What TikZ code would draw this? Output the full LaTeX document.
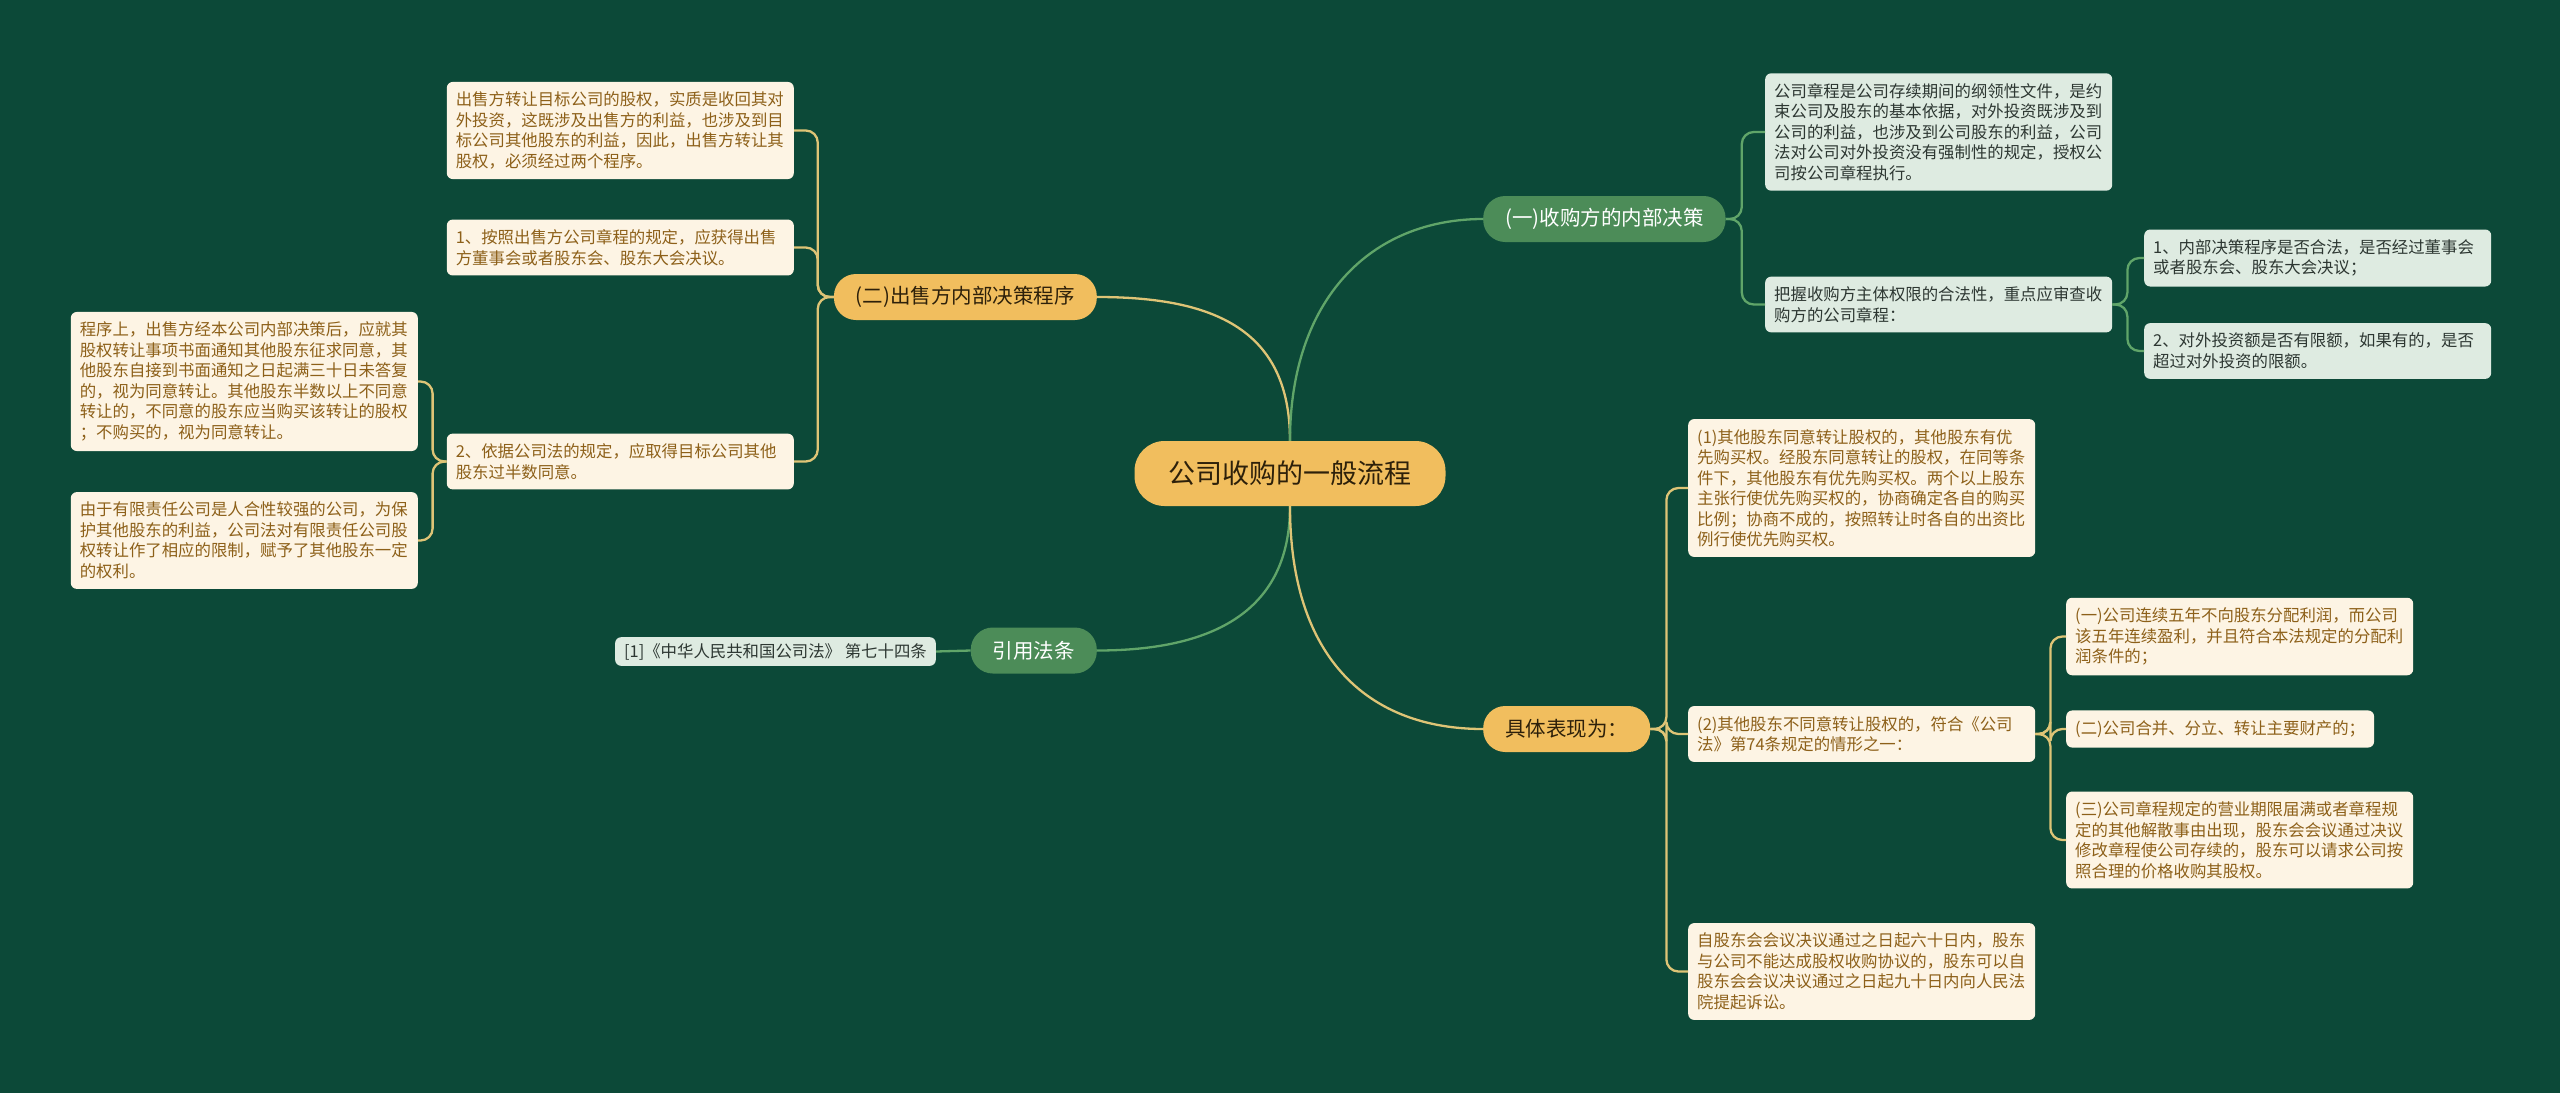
\documentclass[tikz,border=0pt]{standalone}
\usepackage{fontspec}
\setmainfont{Noto Sans CJK SC}
\usetikzlibrary{positioning}
\definecolor{BgGreen}{RGB}{12, 73, 56}
\definecolor{TopicOrange}{RGB}{241, 190, 94}
\definecolor{TopicGreen}{RGB}{76, 140, 88}
\definecolor{LeafCream}{RGB}{253, 244, 228}
\definecolor{LeafBrown}{RGB}{141, 96, 25}
\definecolor{LeafMint}{RGB}{222, 235, 225}
\definecolor{MintText}{RGB}{45, 55, 50}
\definecolor{LineGold}{RGB}{222, 196, 118}
\definecolor{LineGreen}{RGB}{96, 165, 105}
\definecolor{DarkInk}{RGB}{45, 32, 10}

\begin{document}
\begin{tikzpicture}[x=1pt, y=-1pt,
    rootnode/.style={fill=TopicOrange, text=DarkInk, rounded corners=30pt, minimum height=65pt,
      inner xsep=34pt, font=\fontsize{27}{32}\selectfont},
    topic/.style={rounded corners=22pt, minimum height=46pt, inner xsep=22pt,
      font=\fontsize{20.5}{24}\selectfont},
    orangetopic/.style={topic, fill=TopicOrange, text=DarkInk},
    greentopic/.style={topic, fill=TopicGreen, text=white},
    leaf/.style={rounded corners=6pt, inner xsep=9pt, inner ysep=10pt, align=left,
      font=\fontsize{16.4}{20.5}\selectfont},
    wideleaf/.style={text width=329pt},
    creamleaf/.style={leaf, fill=LeafCream, text=LeafBrown},
    mintleaf/.style={leaf, fill=LeafMint, text=MintText},
    goldlink/.style={draw=LineGold, line width=2.3pt, rounded corners=12pt},
    greenlink/.style={draw=LineGreen, line width=2.3pt, rounded corners=12pt}]

  % Background
  \fill[BgGreen] (0,0) rectangle (2560,1093);
  \useasboundingbox (0,0) rectangle (2560,1093);

  % Center and main topics
  \node[rootnode] (root) at (1290,473.5) {公司收购的一般流程};
  \node[orangetopic, anchor=east] (seller) at (1097,297) {(二)出售方内部决策程序};
  \node[greentopic, anchor=east] (cite) at (1097,650.5) {引用法条};
  \node[greentopic, anchor=west] (buyer) at (1483,219) {(一)收购方的内部决策};
  \node[orangetopic, anchor=west] (detail) at (1483,729) {具体表现为：};

  % Seller side
  \node[creamleaf, wideleaf, anchor=east] (sellA) at (794,130.5) {出售方转让目标公司的股权，实质是收回其对\\外投资，这既涉及出售方的利益，也涉及到目\\标公司其他股东的利益，因此，出售方转让其\\股权，必须经过两个程序。};
  \node[creamleaf, wideleaf, anchor=east] (sellB) at (794,247.5) {1、按照出售方公司章程的规定，应获得出售\\方董事会或者股东会、股东大会决议。};
  \node[creamleaf, wideleaf, anchor=east] (sellC) at (794,461.5) {2、依据公司法的规定，应取得目标公司其他\\股东过半数同意。};
  \node[creamleaf, wideleaf, anchor=east] (sellCa) at (418,381.5) {程序上，出售方经本公司内部决策后，应就其\\股权转让事项书面通知其他股东征求同意，其\\他股东自接到书面通知之日起满三十日未答复\\的，视为同意转让。其他股东半数以上不同意\\转让的，不同意的股东应当购买该转让的股权\\；不购买的，视为同意转让。};
  \node[creamleaf, wideleaf, anchor=east] (sellCb) at (418,540.5) {由于有限责任公司是人合性较强的公司，为保\\护其他股东的利益，公司法对有限责任公司股\\权转让作了相应的限制，赋予了其他股东一定\\的权利。};

  % Citation
  \node[mintleaf, anchor=east, inner ysep=6pt] (law) at (936,651.5) {[1]《中华人民共和国公司法》 第七十四条};

  % Buyer side
  \node[mintleaf, wideleaf, anchor=west] (buyA) at (1765,132) {公司章程是公司存续期间的纲领性文件，是约\\束公司及股东的基本依据，对外投资既涉及到\\公司的利益，也涉及到公司股东的利益，公司\\法对公司对外投资没有强制性的规定，授权公\\司按公司章程执行。};
  \node[mintleaf, wideleaf, anchor=west] (buyB) at (1765,304.5) {把握收购方主体权限的合法性，重点应审查收\\购方的公司章程：};
  \node[mintleaf, wideleaf, anchor=west] (buyBa) at (2144,258) {1、内部决策程序是否合法，是否经过董事会\\或者股东会、股东大会决议；};
  \node[mintleaf, wideleaf, anchor=west] (buyBb) at (2144,351) {2、对外投资额是否有限额，如果有的，是否\\超过对外投资的限额。};

  % Details
  \node[creamleaf, wideleaf, anchor=west] (detA) at (1688,488) {(1)其他股东同意转让股权的，其他股东有优\\先购买权。经股东同意转让的股权，在同等条\\件下，其他股东有优先购买权。两个以上股东\\主张行使优先购买权的，协商确定各自的购买\\比例；协商不成的，按照转让时各自的出资比\\例行使优先购买权。};
  \node[creamleaf, wideleaf, anchor=west] (detB) at (1688,734) {(2)其他股东不同意转让股权的，符合《公司\\法》第74条规定的情形之一：};
  \node[creamleaf, wideleaf, anchor=west] (detC) at (1688,971.5) {自股东会会议决议通过之日起六十日内，股东\\与公司不能达成股权收购协议的，股东可以自\\股东会会议决议通过之日起九十日内向人民法\\院提起诉讼。};
  \node[creamleaf, wideleaf, anchor=west] (detBa) at (2066,636.5) {(一)公司连续五年不向股东分配利润，而公司\\该五年连续盈利，并且符合本法规定的分配利\\润条件的；};
  \node[creamleaf, anchor=west] (detBb) at (2066,729) {(二)公司合并、分立、转让主要财产的；};
  \node[creamleaf, wideleaf, anchor=west] (detBc) at (2066,840) {(三)公司章程规定的营业期限届满或者章程规\\定的其他解散事由出现，股东会会议通过决议\\修改章程使公司存续的，股东可以请求公司按\\照合理的价格收购其股权。};

  % Links from the center
  \draw[goldlink] (root.north) .. controls (1290,330) and (1215,297) .. (seller.east);
  \draw[greenlink] (root.north) .. controls (1290,300) and (1370,219) .. (buyer.west);
  \draw[greenlink] (root.south) .. controls (1290,610) and (1215,650.5) .. (cite.east);
  \draw[goldlink] (root.south) .. controls (1290,660) and (1370,729) .. (detail.west);

  % Links to leaves
  \foreach \leafname in {sellA, sellB, sellC}
    \draw[goldlink] (seller.west) -- ++(-16,0) |- (\leafname.east);
  \foreach \leafname in {sellCa, sellCb}
    \draw[goldlink] (sellC.west) -- ++(-14,0) |- (\leafname.east);
  \draw[greenlink] (cite.west) -- (law.east);
  \foreach \leafname in {buyA, buyB}
    \draw[greenlink] (buyer.east) -- ++(16,0) |- (\leafname.west);
  \foreach \leafname in {buyBa, buyBb}
    \draw[greenlink] (buyB.east) -- ++(15,0) |- (\leafname.west);
  \foreach \leafname in {detA, detB, detC}
    \draw[goldlink] (detail.east) -- ++(16,0) |- (\leafname.west);
  \foreach \leafname in {detBa, detBb, detBc}
    \draw[goldlink] (detB.east) -- ++(15,0) |- (\leafname.west);
\end{tikzpicture}
\end{document}
